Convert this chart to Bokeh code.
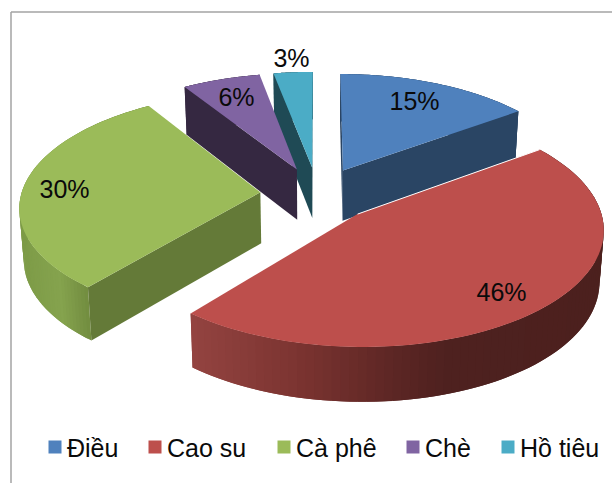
import math
from bokeh.embed import file_html
from bokeh.models import ColumnDataSource, Range1d
from bokeh.plotting import figure
from bokeh.resources import INLINE
from bokeh.core.properties import value

# Export value shares by crop
categories = ["Điều", "Cao su", "Cà phê", "Chè", "Hồ tiêu"]
shares = [15, 46, 30, 6, 3]
top_colors = ["#4F81BD", "#BD4F4C", "#9BBB59", "#8064A2", "#4BACC6"]
side_colors = ["#2A4564", "#4F211F", "#647A38", "#352841", "#1F4A55"]

# Label anchors (pixels) and legend layout
label_x = [414, 501, 64, 236, 291]
label_y = [100, 291, 188, 96, 57]
legend_box_x = [48, 148, 277, 406, 501]
FONT = "Liberation Sans"

# Projection of the tilted pie
CX, CY = 317, 193.5
A, B = 239, 112.6
K, K_DEPTH = 0.115, 0.06
EXPLODE = 0.24
DEPTH = 51
N_ARC = 90


def project(wx, wy):
    s = 1 / (1 + K * wy)
    return CX + A * wx * s, CY - B * wy * s


def drop(wx, wy):
    """Screen position of the lower edge under a point of the top face."""
    x, y = project(wx, wy)
    return CX + (x - CX) * 0.985, y + DEPTH / (1 + K_DEPTH * wy)


def lerp_hex(stops, t):
    t = max(stops[0][0], min(stops[-1][0], t))
    for (t0, c0), (t1, c1) in zip(stops, stops[1:]):
        if t <= t1:
            f = (t - t0) / (t1 - t0)
            return "#%02x%02x%02x" % tuple(round(a + (b - a) * f) for a, b in zip(c0, c1))
    return "#%02x%02x%02x" % stops[-1][1]


# Shading of the curved outer walls, keyed on horizontal pixel position
wall_ramps = {
    "Cao su": [(190, (148, 68, 65)), (300, (124, 52, 49)), (400, (92, 38, 36)), (450, (78, 33, 31)), (610, (76, 32, 30))],
    "Cà phê": [(15, (124, 154, 70)), (60, (133, 163, 78)), (92, (112, 138, 62))],
}

p = figure(width=612, height=483, x_range=Range1d(0, 612), y_range=Range1d(483, 0),
           toolbar_location=None, output_backend="svg", min_border=0,
           outline_line_color=None, background_fill_color="white")
p.xaxis.visible = False
p.yaxis.visible = False
p.grid.visible = False

# Picture frame: top and left rules only reach the window edges
p.line([10.5, 612], [11.5, 11.5], line_color="#A3A3A3", line_width=1.5)
p.line([10.5, 10.5], [11.5, 483], line_color="#A3A3A3", line_width=1.5)

# Slice geometry from the shares
bounds = [0.0]
for s in shares:
    bounds.append(bounds[-1] + s / sum(shares) * 2 * math.pi)

slices = []
for i, name in enumerate(categories):
    t0, t1 = bounds[i], bounds[i + 1]
    mid = (t0 + t1) / 2
    ox, oy = EXPLODE * math.sin(mid), EXPLODE * math.cos(mid)
    arc = [t0 + (t1 - t0) * j / N_ARC for j in range(N_ARC + 1)]
    rim = [(ox + math.sin(t), oy + math.cos(t)) for t in arc]
    slices.append(dict(i=i, name=name, apex=(ox, oy), rim=rim))

# Paint from the back of the pie to the front
for sl in [slices[k] for k in (4, 3, 0, 2, 1)]:
    i, rim, apex = sl["i"], sl["rim"], sl["apex"]
    ramp = wall_ramps.get(sl["name"])
    xs, ys, cols = [], [], []

    # outer wall: each strip overlaps the next one so no seams show
    for j in range(len(rim) - 1):
        a, b = rim[j], rim[min(j + 2, len(rim) - 1)]
        ta, tb = project(*a), project(*b)
        da, db = drop(*a), drop(*b)
        xs.append([ta[0], tb[0], db[0], da[0]])
        ys.append([ta[1], tb[1], db[1], da[1]])
        cols.append(lerp_hex(ramp, ta[0]) if ramp else side_colors[i])

    # radial cut faces, only those that turn towards the viewer
    pa = project(*apex)
    for end, visible in ((rim[0], project(*rim[0])[0] < pa[0]),
                         (rim[-1], project(*rim[-1])[0] > pa[0])):
        if not visible:
            continue
        tb = project(*end)
        da, db = drop(*apex), drop(*end)
        xs.append([pa[0], tb[0], db[0], da[0]])
        ys.append([pa[1], tb[1], db[1], da[1]])
        cols.append(side_colors[i])

    src = ColumnDataSource(dict(xs=xs, ys=ys, c=cols))
    p.patches("xs", "ys", source=src, fill_color="c", line_color=None)

    # top face
    outline = [pa] + [project(*q) for q in rim]
    p.patch([q[0] for q in outline], [q[1] for q in outline], fill_color=top_colors[i],
            line_color=None)

    # the front slice is set off from its neighbour by a thin light edge
    if sl["name"] == "Cao su":
        q = project(*rim[0])
        p.line([pa[0], q[0]], [pa[1], q[1]], line_color="white", line_width=1)

# Percentage labels
p.text(label_x, label_y, text=[f"{s}%" for s in shares], text_font=value(FONT),
       text_font_size="25px", text_color="#0A0A0A", text_align="center", text_baseline="middle")

# Legend
BOX = 13
p.rect([x + BOX / 2 for x in legend_box_x], [446.5] * 5, width=BOX, height=BOX,
       fill_color=top_colors, line_color=None)
p.text([x + BOX + 5.5 for x in legend_box_x], [447] * 5, text=categories, text_font=value(FONT),
       text_font_size="25px", text_color="#0A0A0A", text_align="left", text_baseline="middle")

open("out.html", "w").write(file_html(p, INLINE))
